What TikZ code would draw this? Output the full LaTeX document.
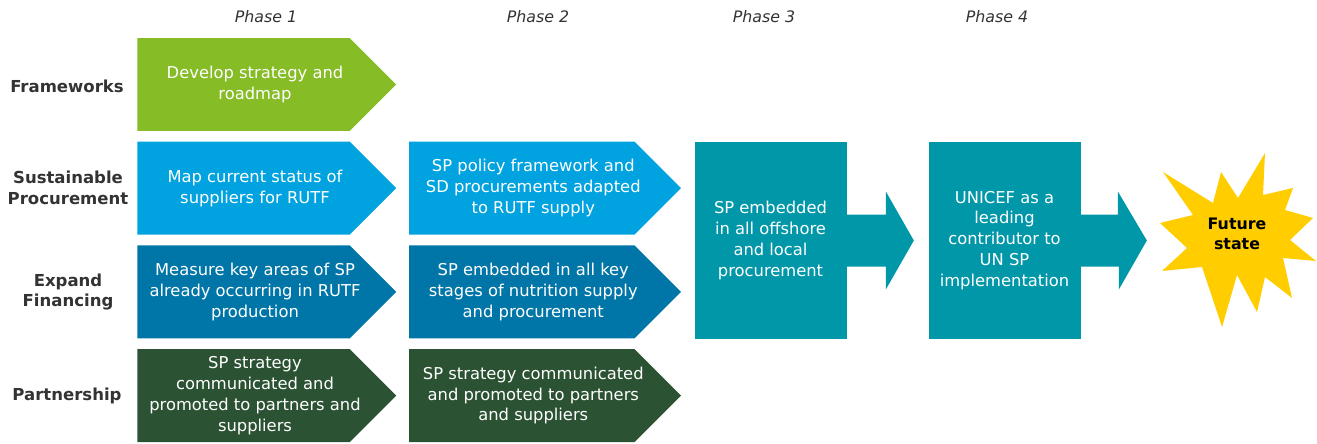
\documentclass[tikz,border=0pt]{standalone}
\usepackage{fontspec}
\setmainfont{DejaVu Sans}
\usetikzlibrary{shapes.symbols, positioning, calc}

\definecolor{fwgreen}{RGB}{134,188,37}
\definecolor{spblue}{RGB}{0,163,224}
\definecolor{finblue}{RGB}{0,118,168}
\definecolor{partgreen}{RGB}{44,82,52}
\definecolor{phaseteal}{RGB}{0,151,169}
\definecolor{stargold}{RGB}{255,205,0}
\definecolor{labelgray}{RGB}{51,51,51}

\begin{document}
\begin{tikzpicture}[
    x=0.02cm, y=-0.02cm,
    font=\fontsize{9.3}{11.9}\selectfont,
    chevron/.style={signal, signal to=east, signal pointer angle=90, minimum width=5.18cm, minimum height=1.86cm, inner sep=0pt},
    widechevron/.style={chevron, minimum width=5.44cm},
    chevtext/.style={text=white, align=center, xshift=0.23cm},
    stage/.style={rectangle, fill=phaseteal, minimum width=3.04cm, minimum height=3.94cm, inner sep=0pt, align=center, text=white},
    rowlabel/.style={align=center, text=labelgray, font=\fontsize{9.4}{11.9}\selectfont\bfseries},
    phase/.style={text=labelgray, font=\fontsize{9}{11}\selectfont\itshape}
]
\useasboundingbox (0,0) rectangle (1317,443);

% Phase headings
\node[phase] (ph1) at (266,17) {Phase 1};
\node[phase] (ph2) at (538,17) {Phase 2};
\node[phase] (ph3) at (764,17) {Phase 3};
\node[phase] (ph4) at (997,17) {Phase 4};

% Row headings
\node[rowlabel] (frameworks) at (67,86) {Frameworks};
\node[rowlabel] (sustproc) at (68,188) {Sustainable\\Procurement};
\node[rowlabel] (expfin) at (68,292) {Expand\\Financing};
\node[rowlabel] (partner) at (67,396) {Partnership};

% Phase 1
\node[chevron, fill=fwgreen, label={[chevtext]center:{Develop strategy and\\roadmap}}] (devstrat) at (243.5,84.5) {};
\node[chevron, fill=spblue, below=0.2cm of devstrat,
    label={[chevtext]center:{Map current status of\\suppliers for RUTF}}] (mapstatus) {};
\node[chevron, fill=finblue, below=0.2cm of mapstatus,
    label={[chevtext]center:{Measure key areas of SP\\already occurring in RUTF\\production}}] (measure) {};
\node[chevron, fill=partgreen, below=0.2cm of measure,
    label={[chevtext]center:{SP strategy\\communicated and\\promoted to partners and\\suppliers}}] (commone) {};

% Phase 2
\node[widechevron, fill=spblue, right=0.24cm of mapstatus,
    label={[chevtext]center:{SP policy framework and\\SD procurements adapted\\to RUTF supply}}] (policy) {};
\node[widechevron, fill=finblue, right=0.24cm of measure,
    label={[chevtext]center:{SP embedded in all key\\stages of nutrition supply\\and procurement}}] (keystages) {};
\node[widechevron, fill=partgreen, right=0.24cm of commone,
    label={[chevtext]center:{SP strategy communicated\\and promoted to partners\\and suppliers}}] (commtwo) {};

% Phase 3 and 4
\node[stage] (embedall) at (770.5,240.5) {SP embedded\\in all offshore\\and local\\procurement};
\node[stage] (leading) at (1004.5,240.5) {UNICEF as a\\leading\\contributor to\\UN SP\\implementation};

% Block arrows
\fill[phaseteal] ($(embedall.east)+(-1,-26)$) -- ++(40,0) -- ++(0,-23) -- ($(embedall.east)+(67,0)$)
    -- ++(-28,49) -- ++(0,-23) -- ($(embedall.east)+(-1,26)$) -- cycle;
\fill[phaseteal] ($(leading.east)+(-1,-26)$) -- ++(38,0) -- ++(0,-23) -- ($(leading.east)+(66,0)$)
    -- ++(-28,49) -- ++(0,-23) -- ($(leading.east)+(-1,26)$) -- cycle;

% Future state burst
\fill[stargold] (1163,172) -- (1213,203) -- (1221,172) -- (1238,198) -- (1265,153) -- (1263,195)
    -- (1293,188) -- (1285,210) -- (1313,218) -- (1290,240) -- (1316,261) -- (1283,258)
    -- (1292,298) -- (1265,277) -- (1257,312) -- (1237,275) -- (1222,327) -- (1202,267)
    -- (1162,271) -- (1187,248) -- (1160,223) -- (1193,215) -- cycle;
\node[align=center, font=\fontsize{9}{11.4}\selectfont\bfseries] (future) at (1237,234) {Future\\state};

\end{tikzpicture}
\end{document}
